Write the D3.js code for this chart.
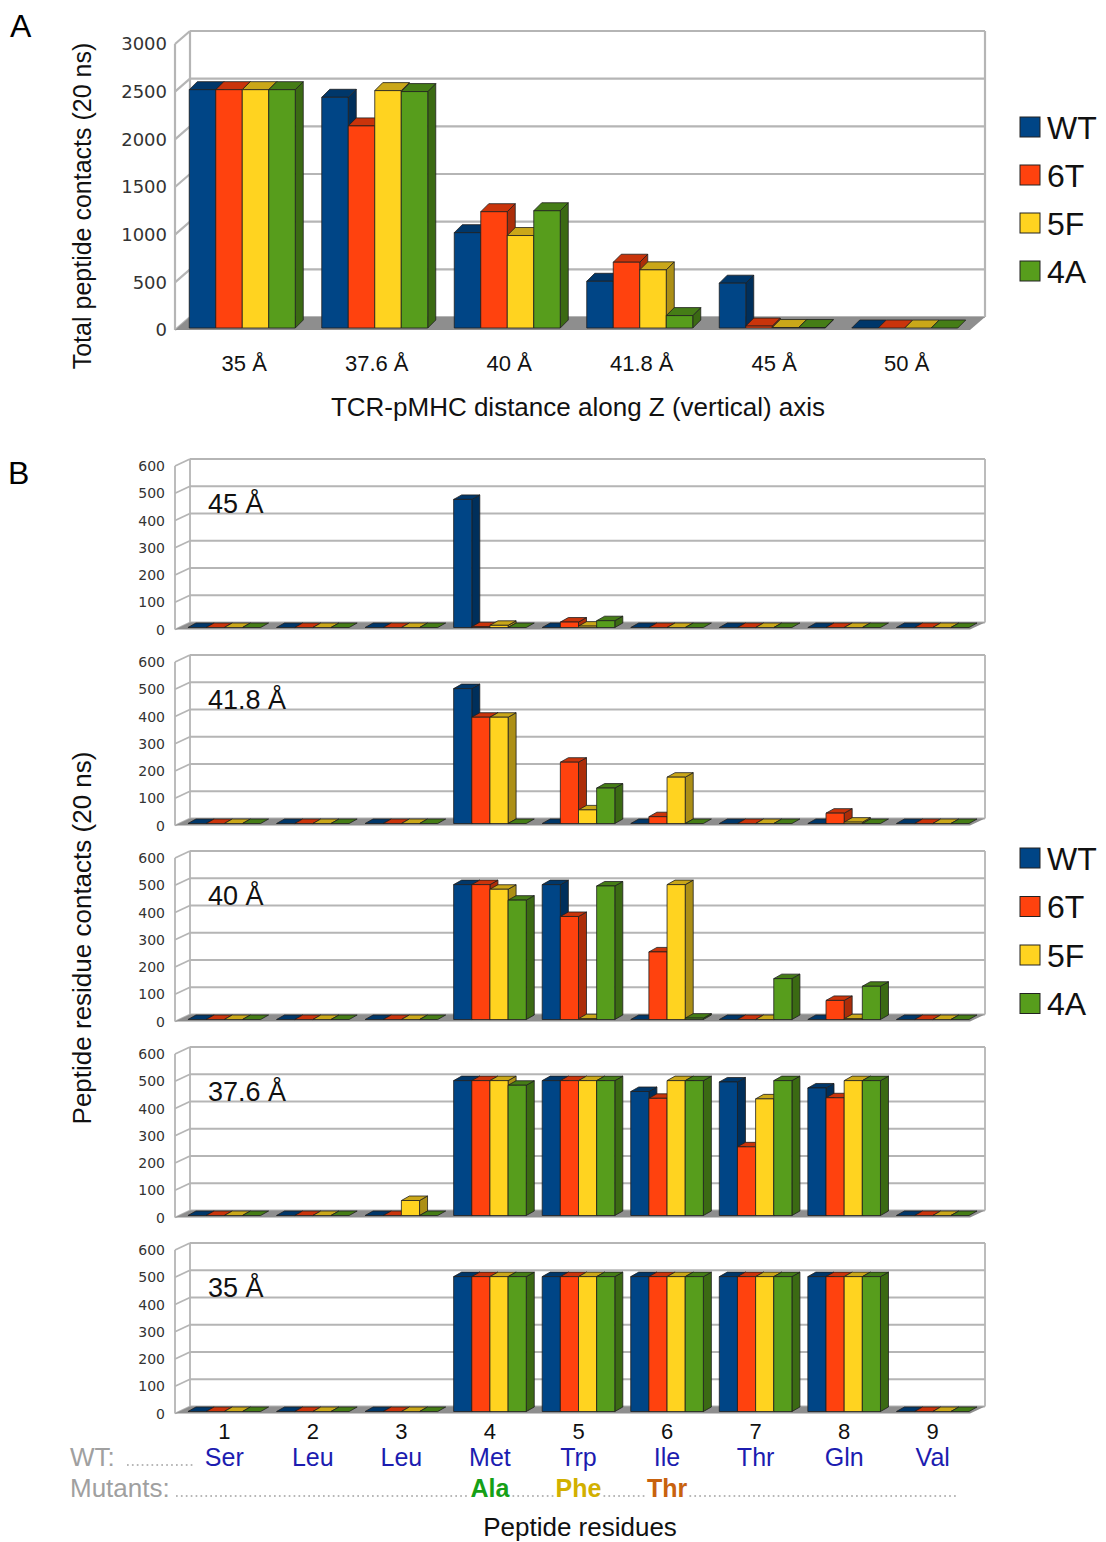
<!DOCTYPE html>
<html lang="en">
<head>
<meta charset="UTF-8">
<title>Peptide contacts</title>
<style>
  body { margin: 0; background: #fff; }
  svg text { font-family: "Liberation Sans", Arial, sans-serif; }
</style>
<script src="https://cdn.jsdelivr.net/npm/d3@7"></script>
</head>
<body>
<svg id="chart" width="1106" height="1542"></svg>
<script>
var series = ["WT", "6T", "5F", "4A"];
var colors = ["#004586", "#ff420e", "#ffd320", "#579d1c"];

// panel A: total contacts per TCR-pMHC distance
var distances = ["35 Å", "37.6 Å", "40 Å", "41.8 Å", "45 Å", "50 Å"];
var totalWT = [2500, 2420, 1000, 490, 470, 0];
var total6T = [2500, 2120, 1220, 690, 20, 0];
var total5F = [2500, 2490, 970, 610, 5, 0];
var total4A = [2500, 2480, 1230, 130, 5, 0];
var totalTicks = [0, 500, 1000, 1500, 2000, 2500, 3000];

// panel B: contacts per residue, one panel per distance
var residues = [1, 2, 3, 4, 5, 6, 7, 8, 9];
var wtNames = ["Ser", "Leu", "Leu", "Met", "Trp", "Ile", "Thr", "Gln", "Val"];
var mutantNames = ["", "", "", "Ala", "Phe", "Thr", "", "", ""];
var mutantColors = ["", "", "", "#16a016", "#d2b000", "#c8620e", "", "", ""];
var residueTicks = [0, 100, 200, 300, 400, 500, 600];
var panelLabels = ["45 Å", "41.8 Å", "40 Å", "37.6 Å", "35 Å"];

var at45 = [
  [0, 0, 0, 470, 0, 0, 0, 0, 0],
  [0, 0, 0, 3, 20, 0, 0, 0, 0],
  [0, 0, 0, 8, 5, 0, 0, 0, 0],
  [0, 0, 0, 0, 25, 0, 0, 0, 0]
];
var at418 = [
  [0, 0, 0, 495, 0, 0, 0, 0, 0],
  [0, 0, 0, 390, 225, 25, 0, 38, 0],
  [0, 0, 0, 390, 50, 170, 0, 5, 0],
  [0, 0, 0, 0, 130, 0, 0, 0, 0]
];
var at40 = [
  [0, 0, 0, 495, 495, 0, 0, 0, 0],
  [0, 0, 0, 495, 378, 248, 0, 70, 0],
  [0, 0, 0, 478, 3, 495, 0, 3, 0],
  [0, 0, 0, 438, 490, 5, 150, 122, 0]
];
var at376 = [
  [0, 0, 0, 495, 495, 455, 490, 468, 0],
  [0, 0, 0, 495, 495, 430, 252, 432, 0],
  [0, 0, 55, 495, 495, 495, 428, 495, 0],
  [0, 0, 0, 478, 495, 495, 495, 495, 0]
];
var at35 = [
  [0, 0, 0, 495, 495, 495, 495, 495, 0],
  [0, 0, 0, 495, 495, 495, 495, 495, 0],
  [0, 0, 0, 495, 495, 495, 495, 495, 0],
  [0, 0, 0, 495, 495, 495, 495, 495, 0]
];

var svg = d3.select("#chart");

function pts(a) { return a.map(function(p) { return p[0] + "," + p[1]; }).join(" "); }

// pseudo-3D bar chart in the OpenOffice style
function chart3d(g, o) {
  var y = d3.scaleLinear().domain([0, o.max]).range([o.yBase, o.yTop]);
  var x = d3.scaleBand().domain(o.cats).range(o.xRange).paddingInner(o.pad).paddingOuter(o.pad / 2);
  var xs = d3.scaleBand().domain(series).range([0, x.bandwidth()]);
  var wx0 = o.axisX + o.wdx, wx1 = o.right;
  var grid = "#b5b5b5";

  g.append("rect").attr("x", wx0).attr("y", y(o.max) + o.wdy)
    .attr("width", wx1 - wx0).attr("height", y(0) - y(o.max)).attr("fill", "#fff");

  o.ticks.forEach(function(t) {
    g.append("line").attr("x1", wx0).attr("x2", wx1)
      .attr("y1", y(t) + o.wdy).attr("y2", y(t) + o.wdy)
      .attr("stroke", grid).attr("stroke-width", o.gw);
    g.append("line").attr("x1", o.axisX).attr("x2", wx0)
      .attr("y1", y(t)).attr("y2", y(t) + o.wdy)
      .attr("stroke", grid).attr("stroke-width", o.gw);
    g.append("text").attr("x", o.tickX).attr("y", y(t)).attr("dy", "0.36em")
      .attr("text-anchor", "end").attr("font-size", o.tickSize)
      .style("font-family", "'DejaVu Sans', sans-serif").attr("fill", "#333")
      .text(t);
  });
  g.append("line").attr("x1", o.axisX).attr("x2", o.axisX).attr("y1", y(0)).attr("y2", y(o.max))
    .attr("stroke", grid).attr("stroke-width", o.gw);
  g.append("line").attr("x1", wx0).attr("x2", wx0).attr("y1", y(0) + o.wdy).attr("y2", y(o.max) + o.wdy)
    .attr("stroke", grid).attr("stroke-width", o.gw);
  g.append("line").attr("x1", wx1).attr("x2", wx1).attr("y1", y(0) + o.wdy).attr("y2", y(o.max) + o.wdy)
    .attr("stroke", grid).attr("stroke-width", o.gw);

  // floor
  g.append("polygon")
    .attr("points", pts([[o.axisX, y(0)], [wx0, y(0) + o.wdy], [wx1, y(0) + o.wdy], [wx1 - o.wdx, y(0)]]))
    .attr("fill", "#8e8e8e");

  var bw = xs.bandwidth();
  o.cats.forEach(function(c, ci) {
    series.forEach(function(s, si) {
      var v = o.values[si][ci];
      var x0 = x(c) + xs(s), x1 = x0 + bw;
      var yb = y(0) + o.bdy, yt = y(v) + o.bdy;
      var col = d3.color(colors[si]);
      var gb = g.append("g").attr("stroke", "#1e1e1e").attr("stroke-width", 0.8)
        .attr("stroke-linejoin", "round");
      if (v > 0) {
        gb.append("polygon")
          .attr("points", pts([[x1, yt], [x1 + o.ddx, yt + o.ddy], [x1 + o.ddx, yb + o.ddy], [x1, yb]]))
          .attr("fill", col.darker(1.1));
      }
      gb.append("polygon")
        .attr("points", pts([[x0, yt], [x0 + o.ddx, yt + o.ddy], [x1 + o.ddx, yt + o.ddy], [x1, yt]]))
        .attr("fill", col.darker(0.65));
      if (v > 0) {
        gb.append("rect").attr("x", x0).attr("y", yt).attr("width", bw).attr("height", yb - yt)
          .attr("fill", colors[si]);
      }
    });
  });
  return x;
}

function legend(x, y0, step) {
  series.forEach(function(s, i) {
    svg.append("rect").attr("x", x).attr("y", y0 + i * step - 10).attr("width", 20).attr("height", 20)
      .attr("fill", colors[i]).attr("stroke", "#222").attr("stroke-width", 1);
    svg.append("text").attr("x", x + 27).attr("y", y0 + i * step).attr("dy", "0.36em")
      .attr("font-size", 32).attr("fill", "#111").text(s);
  });
}

// ---------- panel A ----------
svg.append("text").attr("x", 10).attr("y", 37).attr("font-size", 32).text("A");

var xA = chart3d(svg.append("g"), {
  cats: distances, values: [totalWT, total6T, total5F, total4A], max: 3000, ticks: totalTicks,
  yBase: 330, yTop: 44, axisX: 175, right: 985, wdx: 15, wdy: -13, bdy: -2, ddx: 8, ddy: -8,
  xRange: [176, 971], pad: 0.2, tickSize: 18, tickX: 167, gw: 2.2
});

distances.forEach(function(d) {
  svg.append("text").attr("x", xA(d) + xA.bandwidth() / 2 + 2).attr("y", 363).attr("dy", "0.36em")
    .attr("text-anchor", "middle").attr("font-size", 22).attr("fill", "#111").text(d);
});
svg.append("text").attr("x", 578).attr("y", 407).attr("dy", "0.36em").attr("text-anchor", "middle")
  .attr("font-size", 26).attr("fill", "#111").text("TCR-pMHC distance along Z (vertical) axis");
svg.append("text").attr("transform", "translate(82,206) rotate(-90)").attr("dy", "0.36em")
  .attr("text-anchor", "middle").attr("font-size", 25).attr("fill", "#111")
  .text("Total peptide contacts (20 ns)");
legend(1020, 127, 48);

// ---------- panel B ----------
svg.append("text").attr("x", 8).attr("y", 484).attr("font-size", 32).text("B");

var panelsB = [at45, at418, at40, at376, at35];
var xB;
panelsB.forEach(function(data, i) {
  var off = i * 196;
  xB = chart3d(svg.append("g"), {
    cats: residues, values: data, max: 600, ticks: residueTicks,
    yBase: 629.5 + off, yTop: 466 + off, axisX: 175, right: 985, wdx: 15, wdy: -7, bdy: -2,
    ddx: 8, ddy: -4.5, xRange: [180, 977], pad: 0.18, tickSize: 14, tickX: 165, gw: 1.8
  });
  svg.append("text").attr("x", 208).attr("y", 503 + off).attr("dy", "0.36em")
    .attr("font-size", 27).attr("fill", "#111").text(panelLabels[i]);
});

svg.append("text").attr("transform", "translate(82,938) rotate(-90)").attr("dy", "0.36em")
  .attr("text-anchor", "middle").attr("font-size", 26).attr("fill", "#111")
  .text("Peptide residue contacts (20 ns)");
legend(1020, 858, 48.5);

// residue axis
var cx = function(r) { return xB(r) + xB.bandwidth() / 2; };
residues.forEach(function(r, i) {
  svg.append("text").attr("x", cx(r)).attr("y", 1431).attr("dy", "0.36em").attr("text-anchor", "middle")
    .attr("font-size", 22).attr("fill", "#111").text(r);
  svg.append("text").attr("x", cx(r)).attr("y", 1457).attr("dy", "0.36em").attr("text-anchor", "middle")
    .attr("font-size", 25).attr("fill", "#1c1cb0").text(wtNames[i]);
});

var grey = "#a0a0a0";
function dots(x1, x2, yy) {
  svg.append("line").attr("x1", x1).attr("x2", x2).attr("y1", yy).attr("y2", yy)
    .attr("stroke", grey).attr("stroke-width", 1.7).attr("stroke-dasharray", "1.7,3.2");
}
svg.append("text").attr("x", 70).attr("y", 1457).attr("dy", "0.36em").attr("font-size", 26)
  .attr("fill", grey).text("WT:");
dots(127, 193, 1465);

svg.append("text").attr("x", 70).attr("y", 1488).attr("dy", "0.36em").attr("font-size", 26)
  .attr("fill", grey).text("Mutants:");
var segStart = 176;
residues.forEach(function(r, i) {
  if (!mutantNames[i]) return;
  var t = svg.append("text").attr("x", cx(r)).attr("y", 1488).attr("dy", "0.36em")
    .attr("text-anchor", "middle").attr("font-size", 25).attr("font-weight", "bold")
    .attr("fill", mutantColors[i]).text(mutantNames[i]);
  var bb = t.node().getBBox();
  dots(segStart, bb.x - 1, 1496);
  segStart = bb.x + bb.width + 2;
});
dots(segStart, 956, 1496);

svg.append("text").attr("x", 580).attr("y", 1527).attr("dy", "0.36em").attr("text-anchor", "middle")
  .attr("font-size", 26).attr("fill", "#111").text("Peptide residues");
</script>
</body>
</html>
